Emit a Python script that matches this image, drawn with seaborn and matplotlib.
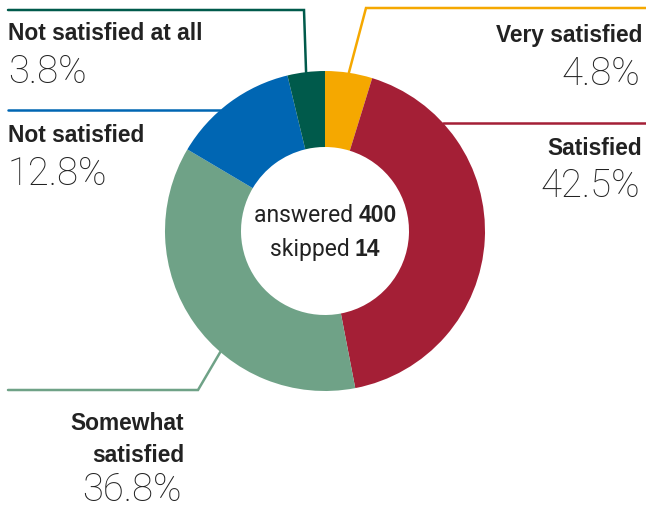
import matplotlib
matplotlib.use("Agg")
import matplotlib.pyplot as plt
import numpy as np
import seaborn as sns

# Survey answers, in clockwise order from 12 o'clock
categories = ["Very satisfied", "Satisfied", "Somewhat satisfied",
              "Not satisfied", "Not satisfied at all"]
shares = [4.8, 42.5, 36.8, 12.8, 3.8]
label_lines = [["Very satisfied"], ["Satisfied"], ["Somewhat", "satisfied"],
               ["Not satisfied"], ["Not satisfied at all"]]
answered = 400
skipped = 14

colors = ["#F5A800", "#A41F36", "#6FA287", "#0066B3", "#005A4B"]

sns.set_theme(style="white")
W, H = 646, 508
fig = plt.figure(figsize=(W / 100, H / 100), dpi=100)
ax = fig.add_axes([0, 0, 1, 1])


def Y(py):
    """Convert a top-down pixel row into the axis' bottom-up coordinate."""
    return H - py


CX, CY, R, R_IN = 325, 231, 160, 84
TEXT = "#222222"
BOLD = dict(family=["Liberation Sans", "DejaVu Sans"], fontweight="bold",
            fontsize=16.4, color=TEXT)
LIGHT = dict(family=["Roboto", "DejaVu Sans"], fontweight="light",
             fontsize=27.5, color=TEXT)
MID = dict(family=["Roboto", "DejaVu Sans"], fontweight="normal",
           fontsize=16.5, color=TEXT)

wedges, _ = ax.pie(shares, colors=colors, startangle=90, counterclock=False,
                   center=(CX, Y(CY)), radius=R,
                   wedgeprops=dict(width=R - R_IN, linewidth=0))
ax.set_xlim(0, W)
ax.set_ylim(0, H)
ax.set_aspect("auto")
ax.axis("off")


def arc_x(py, side):
    """x where the outer rim crosses the pixel row py."""
    return CX + side * np.sqrt(R ** 2 - (py - CY) ** 2)


def mid_point(w):
    a = np.deg2rad((w.theta1 + w.theta2) / 2)
    return CX + R * np.cos(a), CY - R * np.sin(a)


lw = 1.8
# Very satisfied: from wedge middle up, then to the right edge
mx, my = mid_point(wedges[0])
ax.plot([mx, 366, W], [Y(my), Y(8), Y(8)], color=colors[0], lw=lw,
        solid_joinstyle="miter")
# Satisfied: horizontal from rim to right edge
ax.plot([arc_x(123, 1), W], [Y(123), Y(123)], color=colors[1], lw=lw)
# Somewhat satisfied: diagonal down, then to left edge
ax.plot([arc_x(352, -1), 198, 8], [Y(352), Y(390), Y(390)], color=colors[2],
        lw=lw, solid_joinstyle="miter")
# Not satisfied: horizontal from rim to left edge
ax.plot([arc_x(110, -1), 8], [Y(110), Y(110)], color=colors[3], lw=lw)
# Not satisfied at all: from wedge middle up, then to left edge
mx, my = mid_point(wedges[4])
ax.plot([mx, 304, 8], [Y(my), Y(10), Y(10)], color=colors[4], lw=lw,
        solid_joinstyle="miter")

# Category labels and their shares
label_pos = [  # (x, baseline of first line, baseline of percentage, align)
    (642, 42, 85, "right"),
    (642, 155, 197, "right"),
    (184, 430, 501, "right"),
    (8, 142, 185, "left"),
    (8, 40, 83, "left"),
]
for lines, val, (x, by, py, ha) in zip(label_lines, shares, label_pos):
    for i, line in enumerate(lines):
        ax.text(x, Y(by + i * 32), line, ha=ha, va="baseline", **BOLD)
    ax.text(x - (2 if ha == "right" else 0), Y(py), f"{val:.1f}%", ha=ha,
            va="baseline", **LIGHT)

# Centre summary: regular word followed by a bold count
renderer = fig.canvas.get_renderer()
for word, num, by in [("answered", answered, 222), ("skipped", skipped, 256)]:
    t1 = ax.text(0, Y(by), word + " ", ha="left", va="baseline", **MID)
    t2 = ax.text(0, Y(by), str(num), ha="left", va="baseline",
                 **{**MID, "family": ["Liberation Sans", "DejaVu Sans"],
                    "fontweight": "bold"})
    w1 = t1.get_window_extent(renderer).width
    w2 = t2.get_window_extent(renderer).width
    x0 = CX - (w1 + w2) / 2
    t1.set_x(x0)
    t2.set_x(x0 + w1)

fig.savefig("out.png", dpi=100)
